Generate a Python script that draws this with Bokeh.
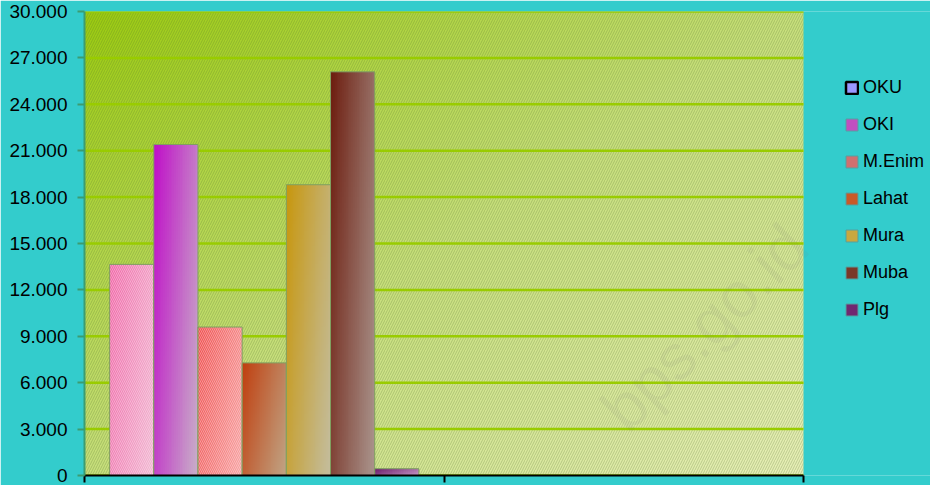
import numpy as np
from bokeh.plotting import figure
from bokeh.models import Range1d, FixedTicker, Legend, LegendItem, Label
from bokeh.embed import file_html
from bokeh.resources import INLINE

# ---------------- data ----------------
REGIONS = ["OKU", "OKI", "M.Enim", "Lahat", "Mura", "Muba", "Plg"]
VALUES = [13650, 21400, 9600, 7280, 18800, 26100, 440]
Y_TICKS = [0, 3000, 6000, 9000, 12000, 15000, 18000, 21000, 24000, 27000, 30000]
Y_TICK_LABELS = ["0", "3.000", "6.000", "9.000", "12.000", "15.000", "18.000",
                 "21.000", "24.000", "27.000", "30.000"]
N_SLOTS = 2          # category slots on the x axis; only the first one holds bars
Y_MAX = 30000

# ---------------- styles ----------------
BAR_TL = ["#F068A8", "#C010C8", "#F05050", "#C04010", "#C89810", "#6E1E10", "#6A1A6A"]
BAR_BR = ["#F2B4D0", "#C8A8C8", "#F8A0A0", "#C0A080", "#C4BC98", "#A89088", "#C090C0"]
BAR_HATCH = ["\\", None, "\\", None, None, None, None]
LEG_FILL = ["#9999FF", "#C050C0", "#D07070", "#C85A28", "#C8A840", "#7A3828", "#702870"]
LEG_LINE = ["#000000", "#55A0A0", "#55A0A0", "#55A0A0", "#55A0A0", "#55A0A0", "#55A0A0"]
LEG_LW = [2.5, 1, 1, 1, 1, 1, 1]
BAR_W = 0.1229
FONT = "Liberation Sans"
FRAME_W = 846            # frame also covers the legend column
PLOT_W = 719             # width of the green plot area in px
X_VIEW = N_SLOTS * FRAME_W / PLOT_W


def hex_rgb(h):
    h = h.lstrip("#")
    return np.array([int(h[i:i + 2], 16) for i in (0, 2, 4)], dtype=float)


def gradient(stops, nx, ny, wx, wy):
    xs = np.linspace(0, 1, nx)
    ys = np.linspace(0, 1, ny)          # 0 = top
    X, Y = np.meshgrid(xs, ys)
    t = np.clip(wx * X + wy * Y, 0, 1)
    pos = np.linspace(0, 1, len(stops))
    cols = np.array([hex_rgb(s) for s in stops])
    rgb = np.stack([np.interp(t, pos, cols[:, k]) for k in range(3)], axis=-1)
    img = np.empty((ny, nx), dtype=np.uint32)
    view = img.view(dtype=np.uint8).reshape((ny, nx, 4))
    view[..., :3] = rgb.astype(np.uint8)
    view[..., 3] = 255
    return img[::-1]                    # bokeh row 0 is the bottom


p = figure(width=930, height=485, output_backend="svg", toolbar_location=None,
           x_range=Range1d(0, X_VIEW), y_range=Range1d(0, Y_MAX),
           min_border_left=84, min_border_right=0, min_border_top=11,
           min_border_bottom=10)
p.border_fill_color = "#33CCCC"
p.background_fill_color = "#33CCCC"
p.outline_line_color = None

# plot-area gradient + fine hatch
bg = gradient(["#9CCC10", "#C8E07C", "#E8F0B8"], 120, 120, 0.5, 0.5)
p.image_rgba(image=[bg], x=0, y=0, dw=N_SLOTS, dh=Y_MAX, level="image")
p.quad(left=[0], right=[N_SLOTS], bottom=[0], top=[Y_MAX], fill_alpha=0,
       line_color=None, hatch_pattern="/", hatch_color="#4E6A28",
       hatch_alpha=0.3, hatch_scale=5, hatch_weight=0.9, level="image")

# horizontal grid lines limited to the plot area
p.segment(x0=[0] * len(Y_TICKS), x1=[N_SLOTS] * len(Y_TICKS), y0=Y_TICKS, y1=Y_TICKS,
          line_color="#99CC00", line_width=2.5)

# bars
n = len(REGIONS)
centers = [0.5 + (i - (n - 1) / 2) * BAR_W for i in range(n)]
for i in range(n):
    img = gradient([BAR_TL[i], BAR_BR[i]], 24, 80, 0.7, 0.35)
    p.image_rgba(image=[img], x=centers[i] - BAR_W / 2, y=0, dw=BAR_W, dh=VALUES[i])
    kw = {}
    if BAR_HATCH[i]:
        kw = dict(hatch_pattern=BAR_HATCH[i], hatch_color="white",
                  hatch_alpha=0.35, hatch_scale=4, hatch_weight=1)
    p.vbar(x=[centers[i]], top=[VALUES[i]], width=BAR_W, fill_alpha=0,
           line_color="#7FA060", line_width=1, **kw)

# legend swatches (hidden renderers, shown only in the legend)
items = []
for i in range(n):
    r = p.vbar(x=[centers[i]], top=[VALUES[i]], width=BAR_W, fill_color=LEG_FILL[i],
               line_color=LEG_LINE[i], line_width=LEG_LW[i])
    r.visible = False
    items.append(LegendItem(label=REGIONS[i], renderers=[r]))
legend = Legend(items=items, location=(760, 154), glyph_width=15, glyph_height=15,
                label_height=24, spacing=13, label_standoff=4, padding=0, margin=0,
                background_fill_alpha=0, border_line_alpha=0,
                inactive_fill_alpha=0,
                label_text_font=FONT, label_text_font_size="18px",
                label_text_color="#000000")
p.add_layout(legend)

# axes
ya = p.yaxis[0]
ya.ticker = FixedTicker(ticks=Y_TICKS)
ya.major_label_overrides = {t: l for t, l in zip(Y_TICKS, Y_TICK_LABELS)}
ya.minor_tick_line_color = None
ya.axis_line_color = "#3C9C70"
ya.axis_line_width = 2
ya.major_tick_line_color = "#3C9C70"
ya.major_tick_line_width = 2
ya.major_tick_in = 0
ya.major_tick_out = 7
ya.major_label_standoff = 10
ya.major_label_text_font = FONT
ya.major_label_text_font_size = "19px"
ya.major_label_text_color = "#000000"

xa = p.xaxis[0]
xa.bounds = (0, N_SLOTS)
xa.ticker = FixedTicker(ticks=list(range(N_SLOTS + 1)))
xa.major_label_overrides = {k: "" for k in range(N_SLOTS + 1)}
xa.major_label_text_font_size = "0px"
xa.major_label_standoff = 0
xa.minor_tick_line_color = None
xa.axis_line_color = "#000000"
xa.axis_line_width = 2
xa.major_tick_line_color = "#000000"
xa.major_tick_line_width = 2
xa.major_tick_in = 0
xa.major_tick_out = 7

p.xgrid.visible = False
p.ygrid.visible = False

# faint watermark
p.add_layout(Label(x=1.98, y=15500, text="bps.go.id", angle=45, angle_units="deg",
                   text_align="right", text_baseline="alphabetic",
                   text_font=FONT, text_font_size="64px",
                   text_color="#707070", text_alpha=0.08))

open("out.html", "w").write(file_html(p, INLINE))
